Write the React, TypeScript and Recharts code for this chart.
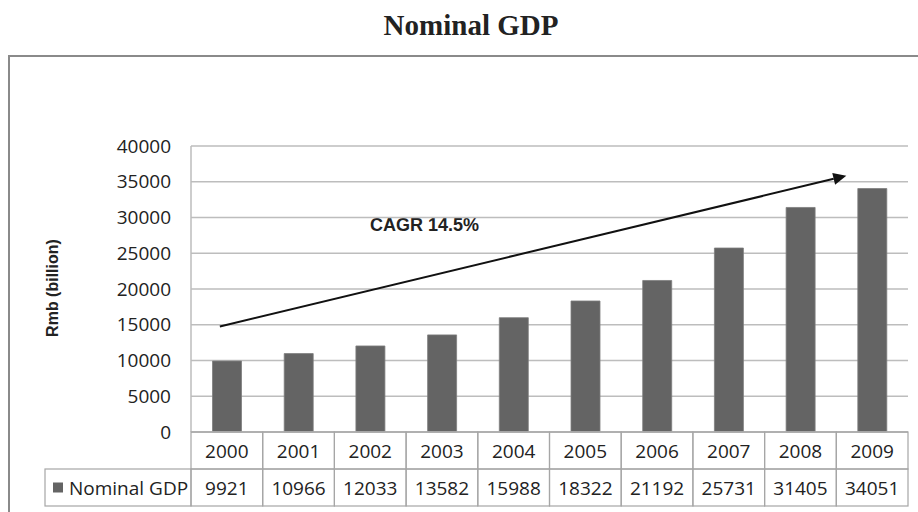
import React from "react";
import {
  BarChart,
  Bar,
  XAxis,
  YAxis,
  CartesianGrid,
  ReferenceLine,
} from "recharts";

const years = ["2000", "2001", "2002", "2003", "2004", "2005", "2006", "2007", "2008", "2009"];
const nominalGdp = [9921, 10966, 12033, 13582, 15988, 18322, 21192, 25731, 31405, 34051];
const yTicks = [0, 5000, 10000, 15000, 20000, 25000, 30000, 35000, 40000];

// trend arrow drawn from (2000, 15000) towards 2009
const trendStart = 15000;
const trendEnd = 36700;

const W = 918;
const H = 512;
const TABLE_H = 80;
const MARGIN = { top: 146, right: 10, bottom: 0, left: 0 };
const Y_AXIS_W = 191;

const SANS = "'Open Sans', 'Noto Sans', Arial, sans-serif";
const GRID = "#bdbdbd";
const CELL = "#a6a6a6";
const BAR = "#646464";

const chartData = years.map((y, i) => ({ year: y, gdp: nominalGdp[i] }));

function TableTick(props: any) {
  const { x, y, payload } = props;
  const fallback = (W - Y_AXIS_W - MARGIN.right) / years.length / 2;
  const half = payload && payload.offset ? payload.offset : fallback;
  const rowH = 37;
  const idx = payload.index;
  const left = x - half;
  return (
    <g>
      <rect x={left} y={y} width={half * 2} height={rowH} fill="none" stroke={CELL} strokeWidth={1.2} />
      <rect x={left} y={y + rowH} width={half * 2} height={rowH} fill="none" stroke={CELL} strokeWidth={1.2} />
      <text x={x} y={y + rowH / 2} textAnchor="middle" dominantBaseline="central" fontFamily={SANS} fontSize={19} fill="#222">
        {payload.value}
      </text>
      <text x={x} y={y + rowH * 1.5} textAnchor="middle" dominantBaseline="central" fontFamily={SANS} fontSize={19} fill="#222">
        {nominalGdp[idx]}
      </text>
      {idx === 0 && (
        <g>
          <rect x={45} y={y + rowH} width={left - 45} height={rowH} fill="none" stroke={CELL} strokeWidth={1.2} />
          <rect x={53} y={y + rowH * 1.5 - 5} width={10} height={10} fill={BAR} />
          <text x={69} y={y + rowH * 1.5} dominantBaseline="central" fontFamily={SANS} fontSize={19} fill="#222">
            Nominal GDP
          </text>
        </g>
      )}
    </g>
  );
}

function TrendArrow(props: any) {
  const { x1, y1, x2, y2 } = props;
  // stop the arrow a little short of the last category centre
  const t = 0.96;
  const ex = x1 + (x2 - x1) * t;
  const ey = y1 + (y2 - y1) * t;
  const ang = Math.atan2(ey - y1, ex - x1);
  const len = 13;
  const wid = 6;
  const bx = ex - len * Math.cos(ang);
  const by = ey - len * Math.sin(ang);
  const px = -Math.sin(ang) * wid;
  const py = Math.cos(ang) * wid;
  return (
    <g>
      <line x1={x1 - 7} y1={y1 + (y2 - y1) * (-7 / (x2 - x1))} x2={bx} y2={by} stroke="#111" strokeWidth={2} />
      <polygon points={`${ex},${ey} ${bx + px},${by + py} ${bx - px},${by - py}`} fill="#111" />
    </g>
  );
}

export default function App() {
  return (
    <div style={{ position: "absolute", left: 0, top: 0, width: W, height: H, background: "#fff", overflow: "hidden" }}>
      <svg width={W} height={H} style={{ position: "absolute", left: 0, top: 0 }}>
        <text x={471} y={35} textAnchor="middle" fontFamily="'Liberation Serif', 'Times New Roman', serif" fontWeight="bold" fontSize={29} fill="#222">
          Nominal GDP
        </text>
        <polyline points={`9,${H + 5} 9,56 ${W + 5},56`} fill="none" stroke="#8a8a8a" strokeWidth={2} />
        <text
          x={52}
          y={288}
          transform="rotate(-90 52 288)"
          textAnchor="middle"
          dominantBaseline="central"
          fontFamily="'Liberation Sans', Arial, sans-serif"
          fontWeight="bold"
          fontSize={16}
          fill="#222"
        >
          Rmb (billion)
        </text>
        <text x={370} y={231} fontFamily="'Liberation Sans', Arial, sans-serif" fontWeight="bold" fontSize={18} fill="#222">
          CAGR 14.5%
        </text>
      </svg>
      <div style={{ position: "absolute", left: 0, top: 0 }}>
        <BarChart width={W} height={H} data={chartData} margin={MARGIN} barCategoryGap="30%">
          <CartesianGrid vertical={false} stroke={GRID} strokeWidth={1.5} />
          <XAxis
            dataKey="year"
            height={TABLE_H}
            axisLine={{ stroke: GRID, strokeWidth: 1.5 }}
            tickLine={false}
            tickSize={0}
            tickMargin={0}
            interval={0}
            tick={<TableTick />}
          />
          <YAxis
            width={Y_AXIS_W}
            domain={[0, 40000]}
            ticks={yTicks}
            interval={0}
            axisLine={{ stroke: GRID, strokeWidth: 1.5 }}
            tickLine={false}
            tickSize={0}
            tickMargin={20}
            tick={{ fontFamily: SANS, fontSize: 19, fill: "#222" }}
          />
          <Bar dataKey="gdp" fill={BAR} stroke="#7d7d7d" strokeWidth={0.8} isAnimationActive={false} />
          <ReferenceLine
            segment={[
              { x: years[0], y: trendStart },
              { x: years[years.length - 1], y: trendEnd },
            ]}
            ifOverflow="visible"
            shape={<TrendArrow />}
          />
        </BarChart>
      </div>
    </div>
  );
}
